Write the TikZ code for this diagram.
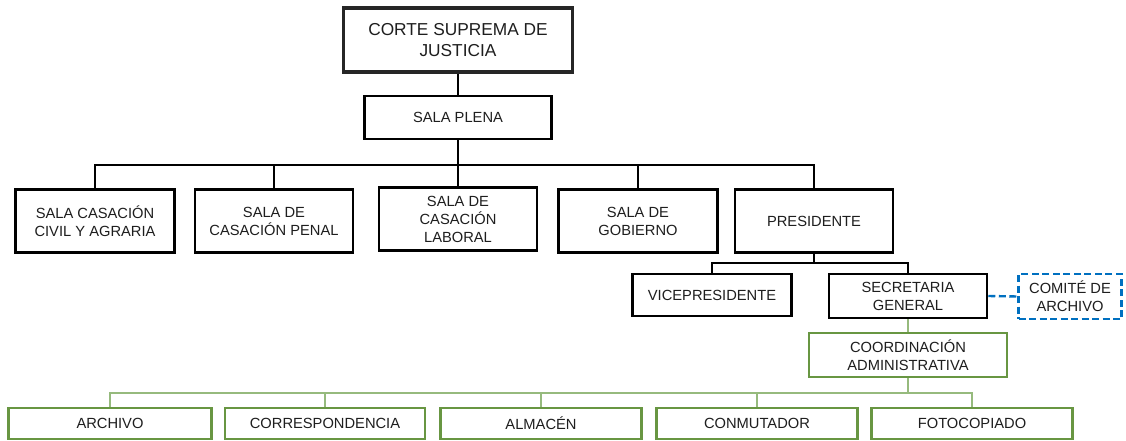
\documentclass[tikz,border=0pt]{standalone}
\usepackage{fontspec}
\setmainfont{Liberation Sans}
\definecolor{grnbox}{RGB}{104,150,66}
\definecolor{grnline}{RGB}{150,186,125}
\definecolor{bluedash}{RGB}{0,112,192}
\definecolor{txt}{RGB}{30,30,30}
\tikzset{
  orgbox/.style={draw=black, line width=2.5pt, rectangle, align=center, inner sep=0pt, text=txt,
    font=\fontsize{14.7}{18}\selectfont},
  topbox/.style={orgbox, line width=3.6pt, draw=black!85, font=\fontsize{17.3}{21}\selectfont},
  grnnode/.style={orgbox, draw=grnbox, line width=2.8pt},
  dashbox/.style={orgbox, draw=bluedash, line width=2.2pt, dash pattern=on 7pt off 3.5pt},
  blkline/.style={draw=black, line width=2.5pt},
  grnconn/.style={draw=grnline, line width=1.6pt},
  blueconn/.style={draw=bluedash, line width=2.4pt, dash pattern=on 7pt off 3.5pt}
}
\begin{document}
\begin{tikzpicture}[x=1pt,y=-1pt]
\useasboundingbox[fill=white] (0,0) rectangle (1126,441);
% level 0/1
\node[topbox, minimum width=229, minimum height=64] (corte) at (458,40) {CORTE SUPREMA DE\\JUSTICIA};
\node[orgbox, minimum width=187, minimum height=43] (plena) at (458,117.5) {SALA PLENA};
% level 2
\node[orgbox, minimum width=159, minimum height=63] (s1) at (95,221) {SALA CASACIÓN\\CIVIL Y AGRARIA};
\node[orgbox, minimum width=158, minimum height=63] (s2) at (274,221) {SALA DE\\CASACIÓN PENAL};
\node[orgbox, minimum width=158, minimum height=63] (s3) at (458,219) {SALA DE\\CASACIÓN\\LABORAL};
\node[orgbox, minimum width=159, minimum height=63] (s4) at (638,221) {SALA DE\\GOBIERNO};
\node[orgbox, minimum width=158, minimum height=63] (s5) at (814,221) {PRESIDENTE};
% level 3
\node[orgbox, minimum width=159, minimum height=42] (vice) at (712,295) {VICEPRESIDENTE};
\node[orgbox, minimum width=158, minimum height=44] (sec) at (908,296) {SECRETARIA\\GENERAL};
\node[dashbox, minimum width=103, minimum height=45] (comite) at (1070,296.5) {COMITÉ DE\\ARCHIVO};
% level 4
\node[grnnode, minimum width=198, minimum height=44] (coord) at (908,355) {COORDINACIÓN\\ADMINISTRATIVA};
% level 5
\node[grnnode, minimum width=203, minimum height=31] (b1) at (110,423.5) {ARCHIVO};
\node[grnnode, minimum width=200, minimum height=31] (b2) at (325,423.5) {CORRESPONDENCIA};
\node[grnnode, minimum width=201, minimum height=31] (b3) at (541,423.5) {ALMACÉN};
\node[grnnode, minimum width=201, minimum height=31] (b4) at (757,423.5) {CONMUTADOR};
\node[grnnode, minimum width=201, minimum height=31] (b5) at (972,423.5) {FOTOCOPIADO};
% bus levels
\coordinate (busA) at (0,165);
\coordinate (busB) at (0,263);
\coordinate (busC) at (0,393);
% connectors
\draw[blkline] (plena.north) -- (plena.north |- corte.south);
\draw[blkline] (plena.south) -- (s3.north);
\draw[blkline] (s1.north) |- (s5.north |- busA) -- (s5.north);
\draw[blkline] (s2.north) -- (s2.north |- busA);
\draw[blkline] (s4.north) -- (s4.north |- busA);
\draw[blkline] (s5.south) -- (s5.south |- busB);
\draw[blkline] (vice.north) |- (sec.north |- busB) -- (sec.north);
\draw[blueconn] (sec.east) -- (comite.west);
\draw[grnconn] (sec.south) -- (coord.north);
\draw[grnconn] (coord.south) -- (coord.south |- busC);
\draw[grnconn] (b1.north) |- (b5.north |- busC) -- (b5.north);
\draw[grnconn] (b2.north) -- (b2.north |- busC);
\draw[grnconn] (b3.north) -- (b3.north |- busC);
\draw[grnconn] (b4.north) -- (b4.north |- busC);
\end{tikzpicture}
\end{document}
